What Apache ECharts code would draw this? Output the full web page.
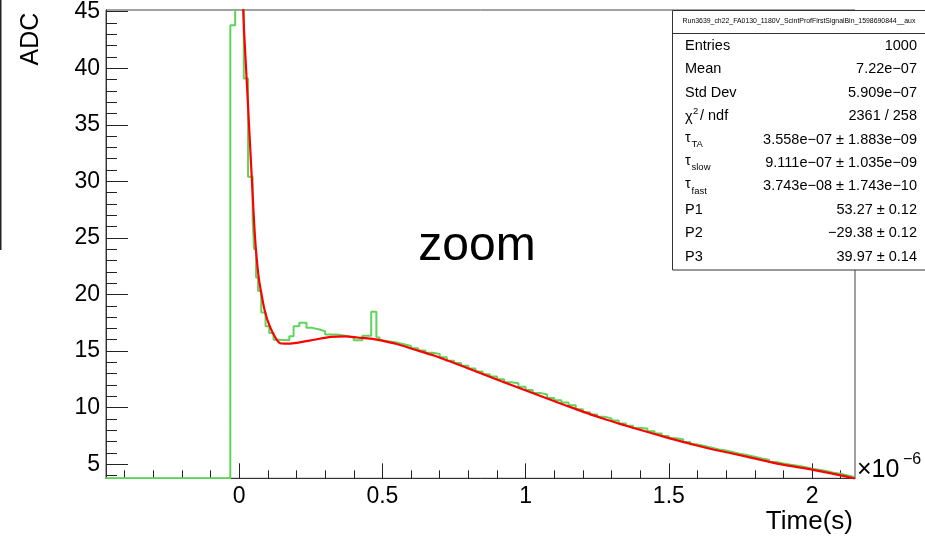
<!DOCTYPE html>
<html><head><meta charset="utf-8">
<script src="https://cdn.jsdelivr.net/npm/echarts@6/dist/echarts.min.js"></script>
<style>html,body{margin:0;padding:0;background:#fff}#c{width:925px;height:540px}</style>
</head><body><div id="c"></div>
<script>
// ---- data (time in units of 1e-6 s, ADC counts) ----
const histEdges = [-0.465, -0.031, -0.014, 0.016, 0.031, 0.047, 0.052, 0.059, 0.066, 0.077,
  0.092, 0.105, 0.120, 0.135, 0.175, 0.190, 0.210, 0.235, 0.255, 0.280,
  0.300, 0.340, 0.370, 0.400, 0.430, 0.461, 0.479, 0.490, 0.500, 0.525,
  0.550, 0.575, 0.600, 0.625, 0.650, 0.675, 0.700, 0.725, 0.750, 0.775,
  0.800, 0.825, 0.850, 0.875, 0.900, 0.925, 0.950, 0.975, 1.000, 1.025,
  1.050, 1.075, 1.100, 1.125, 1.150, 1.175, 1.200, 1.225, 1.250, 1.275,
  1.300, 1.325, 1.350, 1.375, 1.400, 1.425, 1.450, 1.475, 1.500, 1.525,
  1.550, 1.575, 1.600, 1.625, 1.650, 1.675, 1.700, 1.725, 1.750, 1.775,
  1.800, 1.825, 1.850, 1.875, 1.900, 1.925, 1.950, 1.975, 2.000, 2.025,
  2.050, 2.075, 2.100, 2.125, 2.150];
const histValues = [3.76, 43.8, 47.5, 39.1, 30.4, 26.6, 24.0, 21.5, 20.3, 18.4,
  17.2, 16.6, 16.0, 15.95, 16.3, 17.2, 17.5, 17.05, 16.9, 16.75,
  16.47, 16.35, 16.2, 15.95, 16.35, 18.47, 16.2, 15.95, 15.85, 15.75,
  15.6, 15.45, 15.25, 15.05, 14.85, 14.75, 14.45, 14.15, 13.95, 13.7,
  13.45, 13.2, 12.95, 12.75, 12.5, 12.25, 12.15, 11.85, 11.55, 11.3,
  11.15, 10.85, 10.65, 10.45, 10.2, 9.85, 9.6, 9.4, 9.2, 9.05,
  8.85, 8.6, 8.4, 8.2, 8.15, 7.9, 7.7, 7.5, 7.3, 7.2,
  6.95, 6.75, 6.6, 6.45, 6.3, 6.2, 6.05, 5.9, 5.8, 5.65,
  5.5, 5.4, 5.2, 5.05, 4.95, 4.85, 4.75, 4.6, 4.5, 4.4,
  4.25, 4.15, 4.0, 3.85];
const fitTime = [0.013, 0.017, 0.024, 0.031, 0.038, 0.045, 0.052, 0.059, 0.069, 0.079,
  0.088, 0.100, 0.117, 0.140, 0.160, 0.200, 0.262, 0.320, 0.373, 0.413,
  0.460, 0.495, 0.553, 0.611, 0.680, 0.796, 0.913, 1.029, 1.145, 1.261,
  1.377, 1.494, 1.598, 1.655, 1.772, 1.888, 2.004, 2.121, 2.150];
const fitValues = [46.0, 43.3, 40.0, 36.6, 33.2, 29.8, 26.4, 23.8, 21.34, 19.87,
  18.7, 17.65, 16.62, 15.73, 15.65, 15.73, 16.0, 16.25, 16.3, 16.2,
  16.1, 15.94, 15.6, 15.14, 14.6, 13.5, 12.35, 11.25, 10.15, 9.1,
  8.2, 7.35, 6.65, 6.3, 5.67, 5.0, 4.5, 3.9, 3.72];
const xMajorTicks = [0, 0.5, 1, 1.5, 2];
const xMinorTicks = [-0.4, -0.3, -0.2, -0.1, 0.1, 0.2, 0.3, 0.4, 0.6, 0.7, 0.8, 0.9,
  1.1, 1.2, 1.3, 1.4, 1.6, 1.7, 1.8, 1.9, 2.1];
const yMajorTicks = [5, 10, 15, 20, 25, 30, 35, 40, 45];
const yMinorTicks = [4, 6, 7, 8, 9, 11, 12, 13, 14, 16, 17, 18, 19, 21, 22, 23, 24,
  26, 27, 28, 29, 31, 32, 33, 34, 36, 37, 38, 39, 41, 42, 43, 44];
const statsTitle = 'Run3639_ch22_FA0130_1180V_ScintProfFirstSignalBin_1598690844__aux';
const statsLabels = ['Entries', 'Mean', 'Std Dev', 'χ2 / ndf', 'τTA', 'τslow', 'τfast', 'P1', 'P2', 'P3'];
const statsValues = ['1000', '7.22e\u221207', '5.909e\u221207', '2361 / 258',
  '3.558e\u221207 \u00b1 1.883e\u221209', '9.111e\u221207 \u00b1 1.035e\u221209',
  '3.743e\u221208 \u00b1 1.743e\u221210', '53.27 \u00b1 0.12', '\u221229.38 \u00b1 0.12', '39.97 \u00b1 0.14'];
const xTitle = 'Time(s)';
const yTitle = 'ADC';
const noteText = 'zoom';

// ---- build ----
const FONT = '"Liberation Sans", Arial, Helvetica, sans-serif';
const histData = histValues.map((v, i) => [histEdges[i], v]);
histData.push([histEdges[histEdges.length - 1], histValues[histValues.length - 1]]);
const fitData = fitTime.map((t, i) => [t, fitValues[i]]);

const XMIN = -0.465, XMAX = 2.15, YMIN = 3.75, YMAX = 45.15;
const chart = echarts.init(document.getElementById('c'), null, {renderer: 'canvas'});

const graphics = [];
graphics.push({type: 'line', shape: {x1: 0.75, y1: 0, x2: 0.75, y2: 250}, style: {stroke: '#222', lineWidth: 1.5}, z: 10});
graphics.push({type: 'text', x: 31, y: 39, rotation: Math.PI / 2,
  style: {text: yTitle, font: '25px ' + FONT, fill: '#000', align: 'center', verticalAlign: 'middle'}, z: 10});
graphics.push({type: 'text', x: 477, y: 247,
  style: {text: noteText, font: '48px ' + FONT, fill: '#000', align: 'center', verticalAlign: 'middle'}, z: 10});
graphics.push({type: 'text', x: 853, y: 522,
  style: {text: xTitle, font: '26px ' + FONT, fill: '#000', align: 'right', verticalAlign: 'middle'}, z: 10});
graphics.push({type: 'text', x: 857, y: 470,
  style: {text: '\u00d710', font: '25px ' + FONT, fill: '#000', align: 'left', verticalAlign: 'middle'}, z: 10});
graphics.push({type: 'text', x: 903, y: 460,
  style: {text: '\u22126', font: '16px ' + FONT, fill: '#000', align: 'left', verticalAlign: 'middle'}, z: 10});
// stats box
graphics.push({type: 'rect', shape: {x: 672.5, y: 10.5, width: 280, height: 259.5},
  style: {fill: '#fff', stroke: '#333', lineWidth: 1}, z: 20});
graphics.push({type: 'line', shape: {x1: 672.5, y1: 33.5, x2: 925, y2: 33.5}, style: {stroke: '#333', lineWidth: 1}, z: 21});
graphics.push({type: 'text', x: 799, y: 21.5,
  style: {text: statsTitle, font: '6.9px ' + FONT, fill: '#000', align: 'center', verticalAlign: 'middle'}, z: 21});
const ROW0 = 46, ROWSTEP = 23.4, LX = 685, RX = 917;
statsLabels.forEach((lab, i) => {
  const y = ROW0 + i * ROWSTEP;
  if (lab.startsWith('τ')) {
    graphics.push({type: 'text', x: LX, y: y - 2, style: {text: 'τ', font: '14.5px ' + FONT, fill: '#000', verticalAlign: 'middle'}, z: 21});
    graphics.push({type: 'text', x: LX + 6.5, y: y + 4.5, style: {text: lab.slice(1), font: '9.5px ' + FONT, fill: '#000', verticalAlign: 'middle'}, z: 21});
  } else if (lab.startsWith('χ')) {
    graphics.push({type: 'text', x: LX, y: y + 1, style: {text: 'χ', font: '14.5px ' + FONT, fill: '#000', verticalAlign: 'middle'}, z: 21});
    graphics.push({type: 'text', x: LX + 8, y: y - 5, style: {text: '2', font: '9.5px ' + FONT, fill: '#000', verticalAlign: 'middle'}, z: 21});
    graphics.push({type: 'text', x: LX + 15, y: y, style: {text: lab.slice(3), font: '14.5px ' + FONT, fill: '#000', verticalAlign: 'middle'}, z: 21});
  } else {
    graphics.push({type: 'text', x: LX, y: y, style: {text: lab, font: '14.5px ' + FONT, fill: '#000', verticalAlign: 'middle'}, z: 21});
  }
  graphics.push({type: 'text', x: RX, y: y, style: {text: statsValues[i], font: '14.5px ' + FONT, fill: '#000', align: 'right', verticalAlign: 'middle'}, z: 21});
});

const axisCommonX = {type: 'value', min: XMIN, max: XMAX, position: 'bottom', splitLine: {show: false}};
const axisCommonY = {type: 'value', min: YMIN, max: YMAX, position: 'left', splitLine: {show: false}};

chart.setOption({
  animation: false,
  backgroundColor: '#fff',
  grid: {left: 106, right: 70, top: 10, bottom: 61.7, show: true, borderColor: '#444', borderWidth: 1, containLabel: false},
  xAxis: [
    Object.assign({}, axisCommonX, {
      axisLine: {show: true, onZero: false, lineStyle: {color: '#333', width: 1}},
      axisTick: {show: true, inside: true, length: 15, customValues: xMajorTicks, lineStyle: {color: '#222', width: 1}},
      axisLabel: {show: true, customValues: xMajorTicks, fontSize: 23, fontFamily: FONT, color: '#000', margin: 7}
    }),
    Object.assign({}, axisCommonX, {
      axisLine: {show: false, onZero: false},
      axisTick: {show: true, inside: true, length: 8, customValues: xMinorTicks, lineStyle: {color: '#222', width: 1}},
      axisLabel: {show: false}
    })
  ],
  yAxis: [
    Object.assign({}, axisCommonY, {
      axisLine: {show: true, onZero: false, lineStyle: {color: '#333', width: 1}},
      axisTick: {show: true, inside: true, length: 22, customValues: yMajorTicks, lineStyle: {color: '#222', width: 1}},
      axisLabel: {show: true, customValues: yMajorTicks, fontSize: 23, fontFamily: FONT, color: '#000', margin: 6}
    }),
    Object.assign({}, axisCommonY, {
      axisLine: {show: false, onZero: false},
      axisTick: {show: true, inside: true, length: 11, customValues: yMinorTicks, lineStyle: {color: '#222', width: 1}},
      axisLabel: {show: false}
    })
  ],
  series: [
    {type: 'line', name: 'hist', xAxisIndex: 0, yAxisIndex: 0, data: histData, step: 'end',
      showSymbol: false, symbol: 'none', clip: true,
      lineStyle: {color: '#5fd35a', width: 2}, z: 3},
    {type: 'line', name: 'fit', xAxisIndex: 0, yAxisIndex: 0, data: fitData,
      showSymbol: false, symbol: 'none', clip: true, smooth: 0.2,
      lineStyle: {color: '#ff0000', width: 2.2}, z: 4}
  ],
  graphic: graphics
});
</script></body></html>
